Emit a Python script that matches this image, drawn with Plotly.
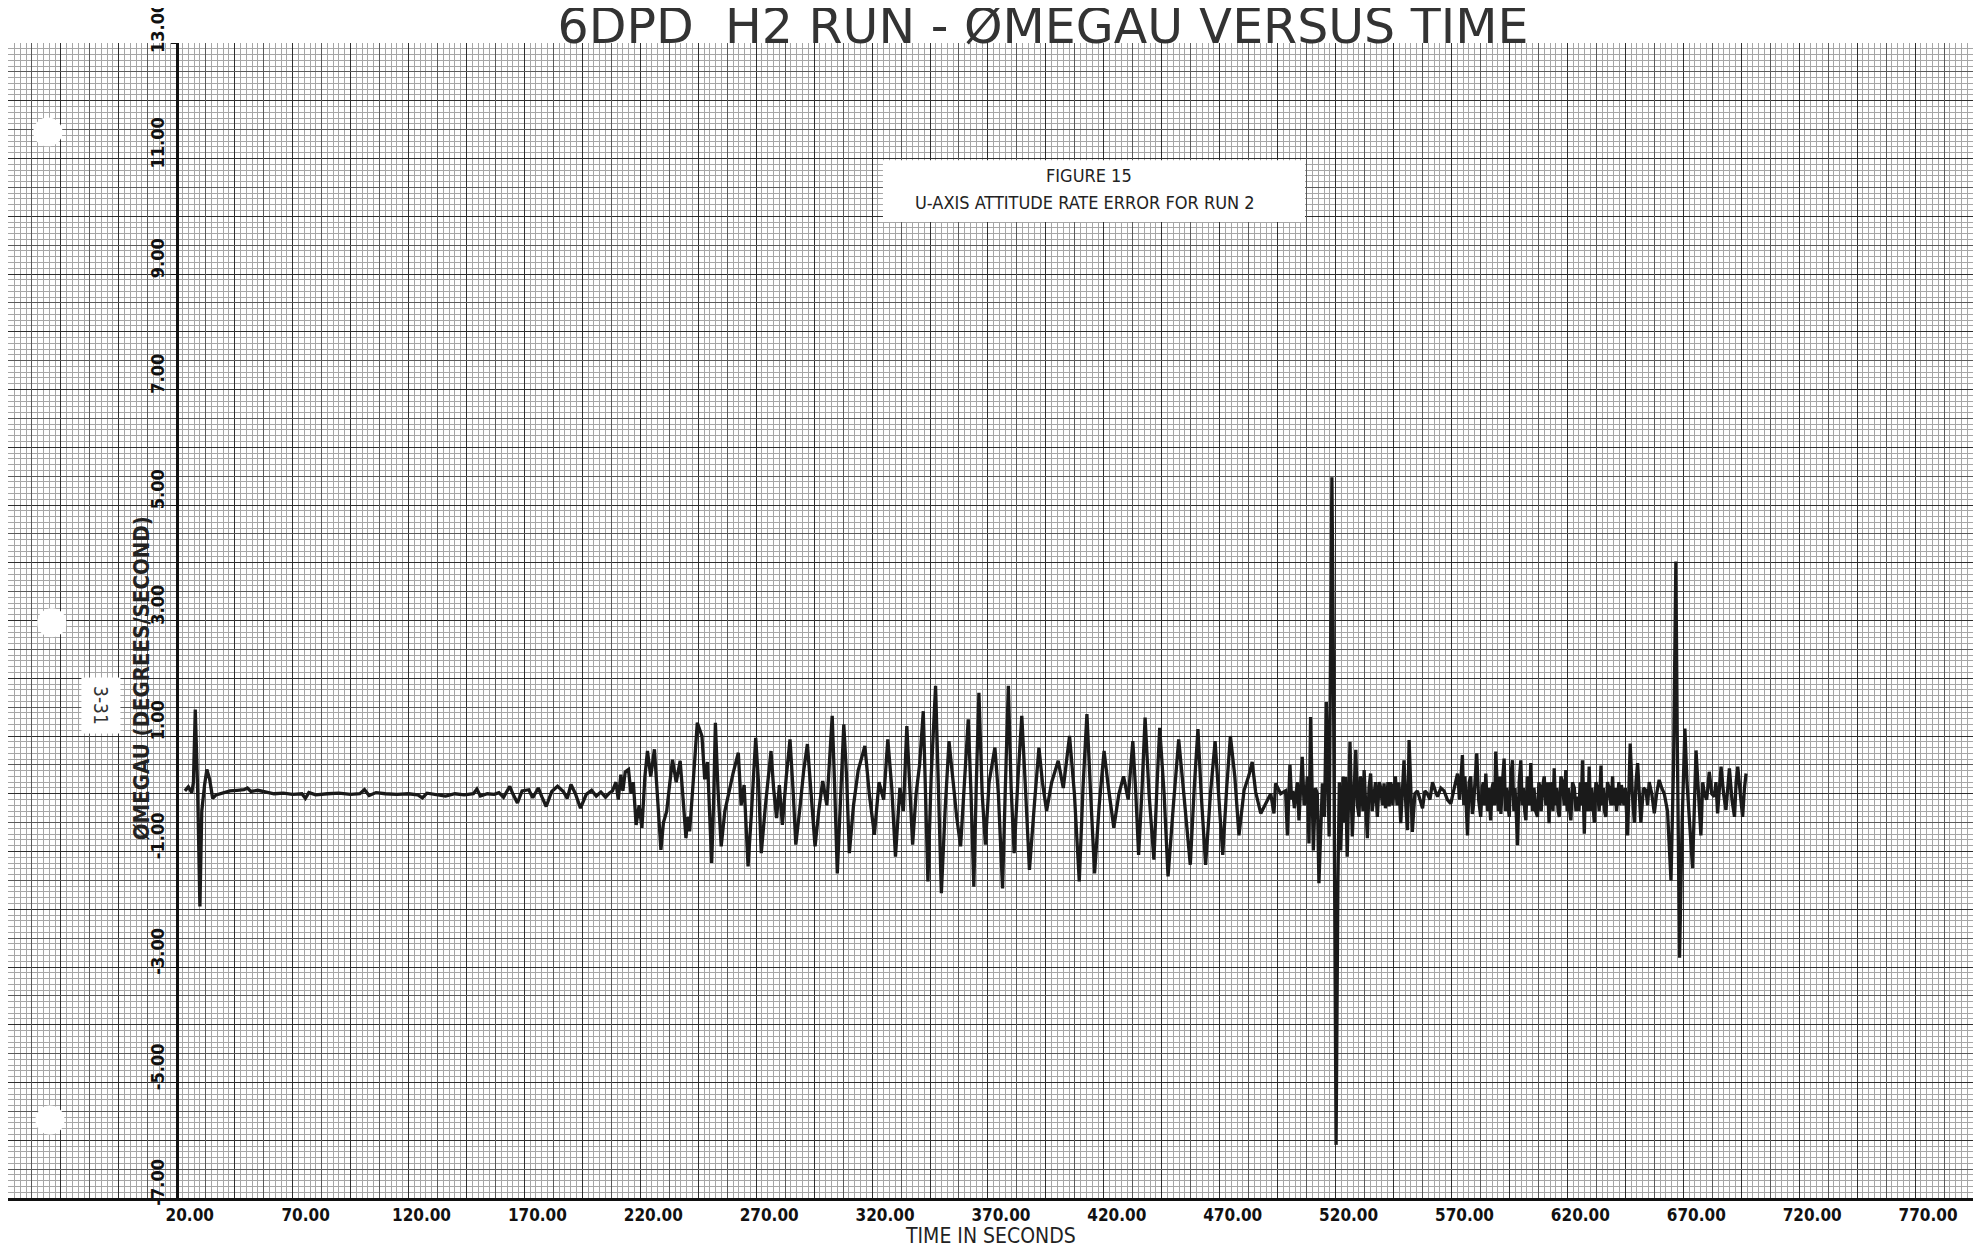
import plotly.graph_objects as go

# ---------------- text ----------------
TITLE = "6DPD\u00a0\u00a0H2 RUN - ØMEGAU VERSUS TIME"
X_TITLE = "TIME\u00a0IN\u00a0SECONDS"
Y_TITLE = "ØMEGAU (DEGREES/SECOND)"
NOTE_LINES = ["FIGURE 15", "U-AXIS ATTITUDE RATE ERROR FOR RUN 2"]
PAGE_LABEL = "3-31"

# ---------------- axes ----------------
X_RANGE = [-52.8, 795]
Y_RANGE = [-7, 13]
X_TICK_VALUES = [20, 70, 120, 170, 220, 270, 320, 370, 420, 470, 520, 570, 620, 670, 720, 770]
X_TICK_LABELS = ["20.00", "70.00", "120.00", "170.00", "220.00", "270.00", "320.00", "370.00",
                 "420.00", "470.00", "520.00", "570.00", "620.00", "670.00", "720.00", "770.00"]
Y_TICK_VALUES = [13, 11, 9, 7, 5, 3, 1, -1, -3, -5, -7]
Y_TICK_LABELS = ["13.00", "11.00", "9.00", "7.00", "5.00", "3.00", "1.00", "-1.00", "-3.00", "-5.00", "-7.00"]

# ---------------- data (time s, omega deg/s) ----------------
SEG_START = [(23.5, 0.05), (25.0, 0.12), (26.5, 0.02), (27.2, 0.2), (28.0, 1.46), (29.0, 0.1),
             (30.0, -1.95), (30.8, -0.3), (32.0, 0.15), (33.0, 0.42), (34.2, 0.25), (35.5, -0.08),
             (37.0, -0.02), (40.0, 0.02)]

SEG_QUIET = [(43, 0.05), (46, 0.06), (49, 0.07), (50.5, 0.1), (52, 0.04), (55, 0.06), (58, 0.03),
             (62, 0.0), (66, 0.01), (70, -0.01), (74, 0.0), (75.5, -0.08), (77, 0.02), (80, -0.02),
             (85, 0.0), (90, 0.01), (95, -0.01), (99, 0.0), (101, 0.07), (103, -0.03), (106, 0.02),
             (110, 0.0), (115, -0.01), (120, 0.0), (124, -0.02), (126, -0.07), (128, 0.01),
             (132, -0.01), (136, -0.04), (140, 0.0), (144, -0.02), (148, 0.0), (149.5, 0.08),
             (151, -0.04), (154, 0.0), (157, -0.01)]

SEG_RISE = [(159, 0.02), (161, -0.06), (163.7, 0.13), (165, 0.0), (167, -0.16), (169, 0.05),
            (171.9, 0.07), (173.6, -0.07), (176, 0.1), (177.5, -0.05), (179.4, -0.22), (181.8, 0.04),
            (184.3, 0.13), (186.8, 0.04), (188.5, -0.08), (190.1, 0.16), (192, 0.0), (194.2, -0.25),
            (196.7, -0.01), (199, 0.06), (201, -0.04), (203, 0.03), (205, -0.06), (206.6, 0.01),
            (208, 0.05), (209.5, 0.2), (210.5, -0.1), (211.6, 0.33), (212.5, 0.05), (213.5, 0.38),
            (214.9, 0.42), (216, 0.0), (217, 0.2), (218.2, -0.54), (219.5, -0.2), (220.7, -0.59),
            (222, 0.3), (223.1, 0.74), (224.5, 0.3), (226.1, 0.77), (227.5, -0.2), (228.9, -0.97),
            (230, -0.5), (231.4, -0.3), (232.5, 0.1), (233.9, 0.59), (235.5, 0.2), (237.2, 0.57),
            (238.5, -0.1), (239.7, -0.77), (240.5, -0.4), (241.3, -0.65), (243, 0.3), (244.6, 1.23)]

SEG_BUSY = [(246.6, 1.0), (247.8, 0.25), (249.0, 0.55), (250.8, -1.2), (251.6, -0.2), (252.4, 1.23),
            (253.5, 0.1), (254.9, -0.91), (256.5, -0.3), (258.2, 0.04), (260, 0.35), (262.3, 0.71),
            (263.5, -0.2), (264.8, 0.15), (266.5, -1.26), (268, -0.3), (269.8, 0.97), (271, 0.2),
            (272.2, -1.03), (274, -0.2), (276.4, 0.74), (277.5, 0.1), (278.8, -0.42), (280, 0.15),
            (281.3, -0.54), (283, 0.3), (284.6, 0.94), (286, 0.0), (287.1, -0.88), (289, -0.2),
            (290.5, 0.4), (292.1, 0.86), (293.8, -0.1), (295.4, -0.91), (297, -0.3), (298.7, 0.22),
            (300.5, -0.2), (302.8, 1.35), (303.8, 0.2), (305, -1.38), (306.5, 0.0), (307.8, 1.2),
            (309, 0.3), (310.2, -1.03), (312, -0.2), (314, 0.4), (316.9, 0.83), (318.8, 0.0),
            (321, -0.71), (323, 0.2), (325, -0.1), (326.8, 0.94), (328.5, 0.1), (330.1, -1.09),
            (332, 0.1), (333.5, -0.3), (335, 1.17), (336.2, 0.2), (337.5, -0.88), (339, 0.0),
            (340.5, 0.5), (342.1, 1.43), (343.2, 0.0), (344.1, -1.52), (345.5, 0.3), (347.4, 1.87),
            (348.7, 0.0), (349.9, -1.72), (351.5, -0.3), (353.2, 0.91), (355, 0.2), (356.5, -0.4),
            (358.2, -0.91), (360, 0.2), (361.5, 1.29), (362.7, 0.0), (363.9, -1.61), (365, 0.2),
            (366.1, 1.75), (367.5, 0.0), (368.9, -0.88), (370.5, 0.2), (373.0, 0.8), (374.5, 0.0),
            (376.3, -1.64), (377.5, 0.1), (378.8, 1.87), (380, 0.1), (381.3, -1.03), (383, 0.3),
            (384.6, 1.35), (386.3, 0.0), (387.9, -1.32), (390, -0.2), (392.0, 0.8), (393.5, 0.2),
            (395.3, -0.3), (397.5, 0.2), (400.3, 0.57), (402.5, 0.1), (405.2, 1.0), (407.3, 0.0),
            (409.4, -1.52), (411, 0.1), (412.7, 1.38), (414.3, 0.0), (416.0, -1.38), (418, -0.2),
            (420.1, 0.74), (422, 0.1), (424.3, -0.59), (426.5, 0.0), (428.5, 0.3), (430.5, -0.1),
            (432.5, 0.91), (433.8, 0.0), (435.0, -1.06), (436.5, 0.1), (437.8, 1.32), (439.5, 0.0),
            (441.6, -1.14), (443, 0.2), (444.1, 1.14), (446, 0.0), (447.7, -1.43), (450, -0.2),
            (452.3, 0.94), (454.5, 0.0), (457.3, -1.23), (459, 0.1), (460.6, 1.12), (462, 0.0),
            (463.9, -1.23), (466, 0.0), (468.0, 0.91), (469.5, 0.0), (471.3, -1.06), (473, 0.1),
            (474.6, 1.0)]

SEG_LATE = [(476.5, 0.3), (478.3, -0.72), (480.5, 0.06), (482.6, 0.32), (484.0, 0.55), (485.5, 0.03),
            (487.7, -0.34), (489.8, -0.17), (492.0, 0.0), (493.4, -0.34), (494.1, 0.18), (496.3, 0.0),
            (498.4, 0.05), (499.2, -0.72), (500.3, 0.5), (501.0, -0.1), (501.5, 0.05), (502.2, -0.25),
            (502.8, 0.0), (503.5, 0.2), (504.2, -0.46), (505.6, 0.64), (506.4, -0.2), (507.1, -0.1),
            (507.8, 0.3), (508.5, -0.86), (509.2, 1.33), (510.4, -0.98), (511.3, 0.1), (512.1, 0.0),
            (512.8, -1.55), (514.3, 0.18), (515.2, -0.4), (516.0, 1.59), (517.2, -0.74), (518.4, 5.48),
            (519.0, 2.5), (520.2, -6.08), (521.0, -1.5), (521.6, 0.2), (522.2, -0.98), (523.2, 0.3),
            (523.8, -0.5), (524.3, 0.29), (525.0, -1.09), (526.2, 0.9), (527.2, -0.74), (528.0, 0.1),
            (528.7, 0.76), (529.4, -0.2), (530.1, -0.4), (530.6, 0.3), (531.2, 0.2), (531.8, -0.3),
            (532.3, 0.41), (533.0, -0.2), (533.7, -0.77), (534.4, 0.1), (535.1, 0.35), (535.8, -0.3),
            (536.5, -0.1), (537.2, 0.2), (538.0, -0.4), (538.8, 0.2), (539.5, 0.1), (540.2, -0.2),
            (540.9, 0.18), (541.5, -0.25), (542.0, -0.1), (542.6, 0.2), (543.1, -0.22), (543.7, 0.2),
            (544.2, 0.1), (544.7, -0.2), (545.2, 0.12), (545.8, 0.3), (546.5, -0.2), (547.3, 0.2),
            (548.1, -0.51), (549.5, 0.58), (550.3, -0.2), (551.0, -0.63), (551.7, 0.93), (553.1, -0.66),
            (554.2, 0.0), (555.3, 0.05), (556.4, -0.1), (557.5, -0.25), (558.5, 0.05), (559.6, 0.0),
            (560.7, -0.1), (561.8, 0.2), (563.0, 0.05), (564.0, -0.05), (565.4, 0.1), (566.8, 0.05),
            (568.2, -0.1), (569.7, -0.17), (571.2, 0.1), (572.6, 0.35), (573.5, -0.1), (574.7, 0.67),
            (575.3, -0.2), (575.8, 0.3), (576.9, -0.72), (577.6, 0.2), (578.3, 0.3), (579.0, -0.35),
            (579.5, -0.2), (580.2, 0.4), (580.9, 0.7), (581.7, -0.1), (582.6, -0.4), (583.2, 0.1),
            (583.7, 0.2), (584.3, -0.2), (584.8, 0.35), (585.5, -0.3), (586.0, 0.1), (586.9, -0.46),
            (587.5, 0.1), (588.0, 0.2), (588.6, -0.2), (589.1, 0.73), (589.7, -0.1), (590.2, -0.3),
            (590.8, 0.3), (591.3, -0.35), (592.0, 0.2), (592.7, 0.61), (593.3, -0.3), (593.8, 0.1),
            (594.4, -0.2), (594.9, -0.4), (595.6, 0.3), (596.3, 0.58), (596.9, -0.3), (597.4, 0.1),
            (598.0, -0.4), (598.5, -0.89), (599.2, 0.2), (599.9, 0.58), (600.5, -0.2), (601.0, 0.1),
            (601.6, -0.3), (602.1, -0.46), (602.7, 0.3), (603.2, 0.2), (603.7, -0.2), (604.2, 0.53),
            (604.9, -0.3), (605.6, 0.1), (606.3, -0.3), (607.1, -0.4), (607.7, 0.2), (608.2, 0.1),
            (608.7, -0.3), (609.3, 0.12), (610.0, 0.3), (610.7, -0.2), (611.4, 0.2), (612.1, -0.51),
            (612.7, 0.2), (613.2, 0.1), (613.8, -0.3), (614.3, 0.44), (614.9, -0.2), (615.4, 0.1),
            (616.0, -0.3), (616.5, -0.4), (617.2, 0.3), (617.9, 0.2), (618.6, -0.2), (619.3, 0.41),
            (619.9, -0.3), (620.4, 0.1), (621.0, -0.3), (621.5, -0.46), (622.2, 0.2), (623.0, 0.1),
            (623.7, -0.3), (624.4, -0.05), (625.0, -0.3), (625.5, 0.2), (626.0, -0.2), (626.5, 0.58),
            (627.3, -0.69), (627.8, 0.2), (628.3, 0.1), (628.9, -0.3), (629.4, 0.47), (630.0, -0.3),
            (630.5, 0.1), (631.0, -0.2), (631.6, -0.5), (632.3, 0.2), (633.0, 0.1), (633.7, -0.3),
            (634.5, 0.49), (635.0, -0.2), (635.5, 0.1), (636.0, -0.3), (636.6, -0.4), (637.3, 0.2),
            (638.0, 0.1), (638.8, -0.2), (639.5, 0.3), (640.0, -0.2), (640.6, 0.1), (641.2, -0.3),
            (641.7, -0.05), (642.2, 0.2), (642.7, -0.2), (643.3, 0.15), (643.8, 0.0), (644.4, -0.2),
            (645.0, 0.1), (646.0, -0.72), (647.1, 0.87), (648.0, 0.0), (648.9, -0.5), (649.6, 0.2),
            (650.3, 0.53), (651.0, 0.0), (651.7, -0.5), (652.8, 0.1), (653.9, 0.06), (654.6, -0.2),
            (655.3, 0.2), (656.4, 0.0), (657.5, -0.34), (658.5, 0.0), (659.6, 0.24), (660.7, 0.1),
            (661.8, 0.0), (663.2, -0.3), (664.7, -1.5), (665.8, 0.5), (666.8, 4.02), (667.4, 1.0),
            (668.4, -2.84), (669.5, -0.5), (670.7, 1.13), (671.6, 0.2), (672.6, -0.5), (674.0, -1.29),
            (675.5, 0.75), (676.5, 0.0), (677.6, -0.72), (678.4, 0.2), (679.1, 0.0), (680.1, -0.1),
            (681.2, 0.38), (682.3, 0.0), (683.4, -0.05), (684.1, 0.2), (684.8, -0.34), (685.6, 0.1),
            (686.3, 0.47), (687.4, 0.0), (688.4, -0.28), (689.2, 0.1), (689.9, 0.44), (691.0, -0.1),
            (692.1, -0.4), (692.8, 0.2), (693.5, 0.47), (694.6, 0.0), (695.6, -0.4), (696.4, 0.1),
            (697.1, 0.35)]

# decorations of the scanned sheet (data coordinates)
PUNCH_HOLES = [(-35.6, 11.46), (-33.9, 2.96), (-34.7, -5.65)]
NOTE_BOX = dict(x0=324.7, x1=506.8, y0=9.9, y1=10.97)
PAGE_LABEL_POS = (-12.7, 1.52)
Y_TITLE_POS = (4.6, 2.0)

# ---------------- build ----------------
points = SEG_START + SEG_QUIET + SEG_RISE + SEG_BUSY + SEG_LATE
T = [p[0] for p in points]
W = [p[1] for p in points]

HEAVY = "#2e2e2e"
MEDIUM = "#5a5a5a"
LIGHT = "#a6a6a6"
INK = "#1a1a1a"
FONT = "DejaVu Sans Condensed, Liberation Sans Narrow, DejaVu Sans, sans-serif"
TITLE_FONT = "DejaVu Sans, sans-serif"

# page body has an 8px default margin, so the figure is sized to fill the window
FIG_W, FIG_H = 1976, 1240

fig = go.Figure()
fig.add_trace(go.Scatter(x=T, y=W, mode="lines", line=dict(color=INK, width=3.3),
                         hoverinfo="skip", showlegend=False))

label_map = dict(zip(X_TICK_VALUES, X_TICK_LABELS))
x_major = [-55 + 25 * i for i in range(35)]
x_text = [label_map.get(v, "") for v in x_major]
y_major = list(range(Y_RANGE[0], Y_RANGE[1] + 1))

fig.update_layout(
    width=FIG_W, height=FIG_H,
    margin=dict(l=0, r=11, t=35, b=50, autoexpand=False),
    paper_bgcolor="white", plot_bgcolor="white",
    title=dict(text=TITLE, x=1035 / FIG_W, y=1 - 1 / FIG_H, xanchor="center", yanchor="top",
               pad=dict(t=0, b=0), automargin=False,
               font=dict(family=TITLE_FONT, size=49, color="#333")),
    xaxis=dict(range=X_RANGE, tickmode="array", tickvals=x_major, ticktext=x_text,
               automargin=False,
               showgrid=True, gridcolor=HEAVY, gridwidth=1.4, zeroline=False,
               showline=True, linecolor="#111", linewidth=3, ticks="",
               ticklabelshift=13, ticklabelstandoff=0,
               tickfont=dict(family=FONT, size=17, color="#111", weight="bold"),
               minor=dict(tickmode="linear", tick0=-55, dtick=2.5, showgrid=True,
                          gridcolor=LIGHT, gridwidth=1)),
    xaxis2=dict(range=X_RANGE, overlaying="x", anchor="y", tickmode="linear", automargin=False,
                tick0=-42.5, dtick=25, showgrid=True, gridcolor=MEDIUM, gridwidth=1,
                showticklabels=False, ticks="", zeroline=False, showline=False),
    yaxis=dict(range=Y_RANGE, tickmode="array", tickvals=y_major, showticklabels=False,
               automargin=False,
               showgrid=True, gridcolor=HEAVY, gridwidth=1.4, zeroline=False, ticks="",
               showline=False,
               minor=dict(tickmode="linear", tick0=Y_RANGE[0], dtick=0.1, showgrid=True,
                          gridcolor=LIGHT, gridwidth=1)),
    yaxis3=dict(range=Y_RANGE, overlaying="y", anchor="x", tickmode="linear", automargin=False,
                tick0=Y_RANGE[0] + 0.5, dtick=1, showgrid=True, gridcolor=MEDIUM, gridwidth=1,
                showticklabels=False, ticks="", zeroline=False, showline=False),
    yaxis2=dict(range=Y_RANGE, overlaying="y", anchor="free", automargin=False,
                position=(X_TICK_VALUES[0] - X_RANGE[0]) / (X_RANGE[1] - X_RANGE[0]),
                side="left", tickmode="array", tickvals=Y_TICK_VALUES, ticktext=Y_TICK_LABELS,
                tickangle=-90, ticklabelshift=-13, ticklabeloverflow="allow",
                ticks="outside", ticklen=5, tickcolor="#111",
                showgrid=False, zeroline=False, showline=True, linecolor="#111", linewidth=3,
                tickfont=dict(family=FONT, size=18, color="#111", weight="bold")),
)

# keep overlay axes alive
fig.add_trace(go.Scatter(x=[], y=[], xaxis="x2", yaxis="y3", showlegend=False, hoverinfo="skip"))
fig.add_trace(go.Scatter(x=[], y=[], xaxis="x", yaxis="y2", showlegend=False, hoverinfo="skip"))

# axis titles
fig.add_annotation(x=0.5, y=-38 / 1155, xref="paper", yref="paper", text=X_TITLE,
                   showarrow=False, yanchor="middle",
                   font=dict(family=FONT, size=21, color="#222"))
fig.add_annotation(x=Y_TITLE_POS[0], y=Y_TITLE_POS[1], xref="x", yref="y", text=Y_TITLE,
                   textangle=-90, showarrow=False,
                   font=dict(family=FONT, size=22, color="#222", weight="bold"))

# punch holes
for hx, hy in PUNCH_HOLES:
    fig.add_shape(type="circle", xref="x", yref="y", x0=hx - 6.3, x1=hx + 6.3,
                  y0=hy - 0.25, y1=hy + 0.25, fillcolor="white", line=dict(width=0), layer="above")

# figure caption box
fig.add_shape(type="rect", xref="x", yref="y", **NOTE_BOX, fillcolor="white",
              line=dict(width=0), layer="above")
box_cx = (NOTE_BOX["x0"] + NOTE_BOX["x1"]) / 2
box_h = NOTE_BOX["y1"] - NOTE_BOX["y0"]
fig.add_annotation(x=box_cx - 2, y=NOTE_BOX["y1"] - box_h * 0.25, xref="x", yref="y",
                   text=NOTE_LINES[0], showarrow=False,
                   font=dict(family=FONT, size=18, color="#222"))
fig.add_annotation(x=box_cx - 4, y=NOTE_BOX["y1"] - box_h * 0.68, xref="x", yref="y",
                   text=NOTE_LINES[1], showarrow=False,
                   font=dict(family=FONT, size=18, color="#222"))

# page number label
fig.add_annotation(x=PAGE_LABEL_POS[0], y=PAGE_LABEL_POS[1], xref="x", yref="y",
                   text=PAGE_LABEL, textangle=90, showarrow=False, bgcolor="white",
                   borderpad=8, font=dict(family=FONT, size=19, color="#333"))

fig.write_html("out.html")
